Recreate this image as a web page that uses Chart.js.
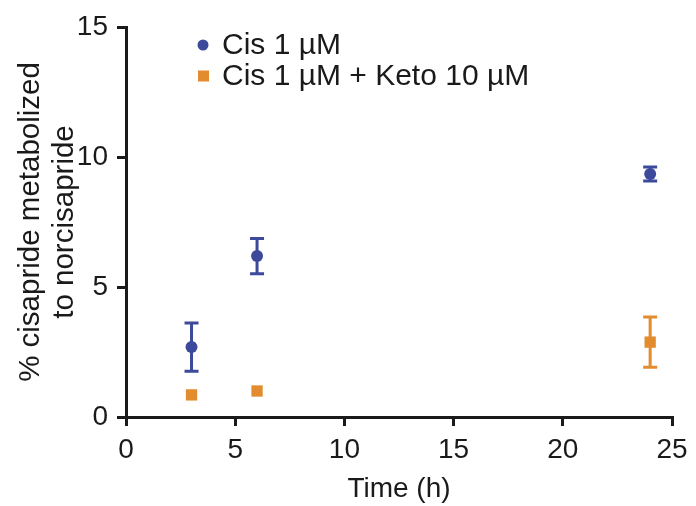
<!DOCTYPE html>
<html>
<head>
<meta charset="utf-8">
<script src="https://cdn.jsdelivr.net/npm/chart.js@4"></script>
<style>
    html, body { margin: 0; padding: 0; background: #fff; }
</style>
</head>
<body>
<canvas id="chart" width="696" height="506"></canvas>
<script>
const timePoints = [3, 6, 24];
const cisMean = [2.69, 6.19, 9.35];
const cisErr = [0.93, 0.68, 0.27];
const ketoMean = [0.85, 1.0, 2.88];
const ketoErr = [0, 0, 0.97];
const seriesLabels = ['Cis 1 \u00b5M', 'Cis 1 \u00b5M + Keto 10 \u00b5M'];
const xTicks = [0, 5, 10, 15, 20, 25];
const yTicks = [0, 5, 10, 15];

const BLUE = '#3d4a9b';
const ORANGE = '#e38c2f';
const INK = '#1a1a1a';
const FONT = 'Liberation Sans, Arial, Helvetica, sans-serif';

function toPoints(xs, ys) {
    return xs.map((x, i) => ({ x: x, y: ys[i] }));
}

// vertical error bars with caps
const errorBars = {
    id: 'errorBars',
    afterDatasetsDraw(chart) {
        const ctx = chart.ctx;
        const xs = chart.scales.x, ys = chart.scales.y;
        chart.data.datasets.forEach(ds => {
            if (!ds.errors) return;
            ctx.save();
            ctx.strokeStyle = ds.borderColor;
            ctx.lineWidth = 3;
            ds.data.forEach((p, i) => {
                const e = ds.errors[i];
                if (!e) return;
                const px = xs.getPixelForValue(p.x);
                const top = ys.getPixelForValue(p.y + e);
                const bot = ys.getPixelForValue(p.y - e);
                ctx.beginPath();
                ctx.moveTo(px, top); ctx.lineTo(px, bot);
                ctx.moveTo(px - 7, top); ctx.lineTo(px + 7, top);
                ctx.moveTo(px - 7, bot); ctx.lineTo(px + 7, bot);
                ctx.stroke();
            });
            ctx.restore();
        });
    }
};

// legend drawn inside the plot area, top left
const innerLegend = {
    id: 'innerLegend',
    afterDraw(chart) {
        const ctx = chart.ctx;
        ctx.save();
        ctx.font = '30px ' + FONT;
        ctx.textBaseline = 'middle';
        chart.data.datasets.forEach((ds, i) => {
            const y = 45 + i * 31;
            ctx.fillStyle = ds.backgroundColor;
            if (ds.pointStyle === 'rect') {
                ctx.fillRect(198, y - 5.5, 11, 11);
            } else {
                ctx.beginPath();
                ctx.arc(203, y, 5.5, 0, Math.PI * 2);
                ctx.fill();
            }
            ctx.fillStyle = INK;
            ctx.fillText(ds.label, 222, y + 1);
        });
        ctx.restore();
    }
};

new Chart(document.getElementById('chart'), {
    type: 'scatter',
    data: {
        datasets: [{
            label: seriesLabels[0],
            data: toPoints(timePoints, cisMean),
            errors: cisErr,
            backgroundColor: BLUE,
            borderColor: BLUE,
            pointStyle: 'circle',
            pointRadius: 6,
            pointBorderWidth: 0
        }, {
            label: seriesLabels[1],
            data: toPoints(timePoints, ketoMean),
            errors: ketoErr,
            backgroundColor: ORANGE,
            borderColor: ORANGE,
            pointStyle: 'rect',
            pointRadius: 8,
            pointBorderWidth: 0
        }]
    },
    options: {
        responsive: false,
        animation: false,
        layout: { padding: { top: 27, right: 24, left: 0, bottom: 0 } },
        plugins: { legend: { display: false }, tooltip: { enabled: false } },
        scales: {
            x: {
                type: 'linear',
                min: 0, max: 25,
                afterBuildTicks: s => { s.ticks = xTicks.map(v => ({ value: v })); },
                afterFit: s => { s.height = 89; },
                ticks: { color: INK, font: { size: 28, family: FONT }, padding: 7, maxRotation: 0 },
                grid: { drawOnChartArea: false, drawTicks: true, tickLength: 9, color: INK, lineWidth: 3 },
                border: { display: true, color: INK, width: 3 },
                title: { display: true, text: 'Time (h)', color: INK, font: { size: 28, family: FONT }, padding: { top: 0, bottom: 0 } }
            },
            y: {
                type: 'linear',
                min: 0, max: 15,
                afterBuildTicks: s => { s.ticks = yTicks.map(v => ({ value: v })); },
                afterFit: s => { s.width = 126; },
                ticks: { color: INK, font: { size: 28, family: FONT }, padding: 9 },
                grid: { drawOnChartArea: false, drawTicks: true, tickLength: 9, color: INK, lineWidth: 3 },
                border: { display: true, color: INK, width: 3 },
                title: {
                    display: true,
                    text: ['% cisapride metabolized', 'to norcisapride'],
                    color: INK,
                    font: { size: 29.5, family: FONT, lineHeight: 1.18 },
                    padding: { top: 13, bottom: 0 }
                }
            }
        }
    },
    plugins: [errorBars, innerLegend]
});
</script>
</body>
</html>
